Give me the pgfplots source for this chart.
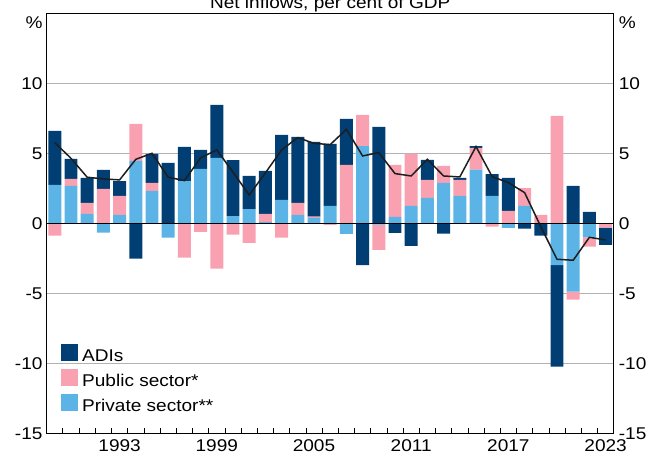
\documentclass[border=0pt]{standalone}
\usepackage{fontspec}
\setmainfont[FakeStretch=1.12]{Liberation Sans}
\usepackage{pgfplots}
\usepackage{pgfplotstable}
\pgfplotsset{compat=1.18}
\definecolor{adi}{RGB}{0,62,115}
\definecolor{pub}{RGB}{249,161,176}
\definecolor{priv}{RGB}{91,180,229}
\definecolor{gridgray}{RGB}{178,178,178}
\definecolor{linecol}{RGB}{30,30,30}

\pgfplotstableread{
year adi pub priv total
1989 3.86 -0.88 2.74 5.76
1990 1.43 0.50 2.67 4.64
1991 1.79 0.78 0.67 3.29
1992 1.36 2.45 -0.67 3.17
1993 1.07 1.35 0.60 3.10
1994 -2.52 2.65 4.45 4.57
1995 2.07 0.57 2.31 5.00
1996 4.31 0.00 -1.02 3.29
1997 2.43 -2.45 3.02 3.05
1998 1.36 -0.62 3.88 4.67
1999 3.78 -3.24 4.67 5.24
2000 4.00 -0.81 0.52 3.65
2001 2.36 -1.40 1.02 2.02
2002 3.07 0.57 0.10 3.60
2003 4.64 -1.02 1.67 5.24
2004 4.72 0.85 0.60 6.12
2005 5.33 0.10 0.38 5.71
2006 4.43 -0.12 1.24 5.62
2007 3.28 4.17 -0.76 6.71
2008 -2.98 2.22 5.52 4.81
2009 6.88 -1.80 -0.10 5.05
2010 -0.69 3.72 0.45 3.55
2011 -1.62 3.74 1.24 3.38
2012 1.43 1.29 1.81 4.57
2013 -0.74 1.22 2.88 3.38
2014 0.14 1.15 1.95 3.31
2015 0.14 1.55 3.83 5.48
2016 1.57 -0.24 1.95 3.33
2017 2.36 0.88 -0.33 2.90
2018 -0.38 1.28 1.24 2.19
2019 -0.88 0.60 0.00 -0.24
2020 -7.26 7.67 -2.98 -2.57
2021 2.67 -0.57 -4.88 -2.64
2022 0.81 -0.67 -1.00 -1.00
2023 -1.24 -0.31 0.00 -1.19
}\data

\pgfplotsset{
  base/.style={
    at={(0pt,0pt)}, anchor=south west,
    scale only axis, width=567pt, height=420pt,
    xmin=1988.5, xmax=2023.5, ymin=-15, ymax=15,
    font=\fontsize{17}{20}\selectfont,
    ticklabel style={font=\fontsize{17}{20}\selectfont},
    /pgf/number format/assume math mode=true,
    /pgf/number format/1000 sep={},
    axis line style={black, line width=1pt},
  },
}

\begin{document}
\begin{tikzpicture}
% Axis A: grid, left labels, x ticks, positive stacks
\begin{axis}[base, ybar stacked, bar width=0.8,
  xtick={1993,1999,...,2023},
  minor xtick={1989.5,1990.5,...,2022.5},
  xtick pos=left, xtick align=inside,
  major tick length=0pt, minor tick length=5pt,
  minor tick style={black, line width=0.8pt},
  xticklabel style={anchor=base, yshift=-18.7pt, inner sep=0pt},
  ytick={-15,-10,...,10}, ytick pos=left,
  ymajorgrids, major grid style={gridgray, line width=1pt},
  yticklabel style={anchor=east, inner sep=0pt, xshift=-4pt},
  extra y ticks={14.3}, extra y tick labels={\%},
  extra y tick style={grid=none},
]
\addplot[fill=priv, draw=none] table[x=year, y expr={max(\thisrow{priv},0)}] {\data};
\addplot[fill=pub, draw=none] table[x=year, y expr={max(\thisrow{pub},0)}] {\data};
\addplot[fill=adi, draw=none] table[x=year, y expr={max(\thisrow{adi},0)}] {\data};
\end{axis}
% Axis B: negative stacks
\begin{axis}[base, ybar stacked, bar width=0.8,
  xtick=\empty, ytick=\empty]
\addplot[fill=priv, draw=none] table[x=year, y expr={min(\thisrow{priv},0)}] {\data};
\addplot[fill=pub, draw=none] table[x=year, y expr={min(\thisrow{pub},0)}] {\data};
\addplot[fill=adi, draw=none] table[x=year, y expr={min(\thisrow{adi},0)}] {\data};
\end{axis}
% Axis C: zero line, total line, right labels, legend
\begin{axis}[base, name=c,
  xtick=\empty,
  ytick={-15,-10,...,10}, ytick pos=right, yticklabel pos=right,
  major tick length=0pt,
  yticklabel style={anchor=west, inner sep=0pt, xshift=5pt},
  extra y ticks={14.3}, extra y tick labels={\%},
  legend image code/.code={\fill[#1] (0pt,-4pt) rectangle (17pt,13pt);},
  legend cell align=left,
  legend style={at={(axis description cs:0.0252,0.042)}, anchor=south west,
    draw=none, fill=none, inner sep=0pt, row sep=3.5pt,
    nodes={inner sep=0pt, text height=13pt, text depth=4pt},
    /tikz/every odd column/.append style={column sep=4pt},
    font=\fontsize{17}{20}\selectfont},
]
\addplot[black, line width=1pt, forget plot] coordinates {(1988.5,0) (2023.5,0)};
\addplot[linecol, line width=1.5pt, forget plot] table[x=year, y=total] {\data};
\addlegendimage{fill=adi, draw=none}\addlegendentry{ADIs}
\addlegendimage{fill=pub, draw=none}\addlegendentry{Public sector*}
\addlegendimage{fill=priv, draw=none}\addlegendentry{Private sector**}
\end{axis}
\node[anchor=base, font=\fontsize{17}{20}\selectfont] at ([yshift=4.6pt]c.north) {Net inflows, per cent of GDP};
\pgfresetboundingbox
\path[use as bounding box] (-46.7pt,-28.7pt) rectangle (614.3pt,433.3pt);
\end{tikzpicture}
\end{document}
